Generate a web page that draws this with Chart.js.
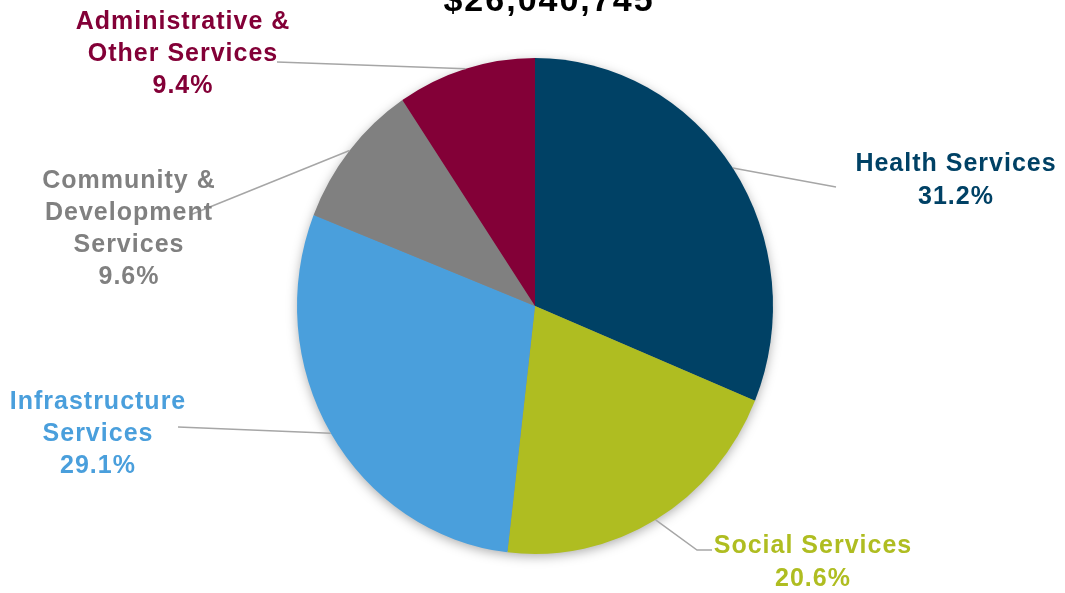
<!DOCTYPE html>
<html>
<head>
<meta charset="utf-8">
<title>Budget by Service Area</title>
<script src="https://cdn.jsdelivr.net/npm/chart.js@4"></script>
<style>
  html, body { margin: 0; padding: 0; background: #fff; overflow: hidden; }
  #wrap { width: 1065px; height: 593px; }
</style>
</head>
<body>
<div id="wrap"><canvas id="budgetPie" width="1065" height="593"></canvas></div>
<script>
// Budget share by service area (percent of total)
const totalBudget = "$26,040,745";
const categories = ["Health Services", "Social Services", "Infrastructure Services", "Community & Development Services", "Administrative & Other Services"];
const shares = [31.2, 20.6, 29.1, 9.6, 9.4];
const sliceColors = ["#004165", "#afbd21", "#4a9fdc", "#808080", "#830037"];

// label text lines (name wrapped + percent), placement and leader routing
const labelLines = [
  ["Health Services"],
  ["Social Services"],
  ["Infrastructure", "Services"],
  ["Community &", "Development", "Services"],
  ["Administrative &", "Other Services"]
];
const labelPos = [
  { x: 956, y: 164, lead: [[836, 187]] },
  { x: 813, y: 546, lead: [[697, 550], [712, 550]] },
  { x: 98,  y: 402, lead: [[178, 427]] },
  { x: 129, y: 181, lead: [[190, 215]] },
  { x: 183, y: 22,  lead: [[277, 62]] }
];

const xSquash = 238 / 248; // pie is drawn slightly narrower than tall
const lineGap = 32;

function pct(v) { return v.toFixed(1) + "%"; }

// squash the pie horizontally and put a soft shadow under it
const pieShape = {
  id: 'pieShape',
  beforeDatasetsDraw(chart) {
    const arc = chart.getDatasetMeta(0).data[0];
    const ctx = chart.ctx;
    ctx.save();
    ctx.translate(arc.x, 0);
    ctx.scale(xSquash, 1);
    ctx.translate(-arc.x, 0);
    ctx.save();
    ctx.shadowColor = 'rgba(0,0,0,0.35)';
    ctx.shadowBlur = 12;
    ctx.shadowOffsetY = 3;
    ctx.fillStyle = '#888';
    ctx.beginPath();
    ctx.arc(arc.x, arc.y, arc.outerRadius - 1, 0, Math.PI * 2);
    ctx.fill();
    ctx.restore();
  },
  afterDatasetsDraw(chart) {
    chart.ctx.restore();
  }
};

// title, leader lines and slice labels
const pieLabels = {
  id: 'pieLabels',
  afterDraw(chart) {
    const ctx = chart.ctx;
    const meta = chart.getDatasetMeta(0);
    ctx.save();
    ctx.textAlign = 'center';
    ctx.textBaseline = 'alphabetic';
    ctx.fillStyle = '#000';
    ctx.font = 'bold 34px "Liberation Sans", Arial, sans-serif';
    ctx.letterSpacing = '2px';
    ctx.fillText(totalBudget, 549, 11);

    meta.data.forEach((arc, i) => {
      const mid = (arc.startAngle + arc.endAngle) / 2;
      const ex = arc.x + Math.cos(mid) * arc.outerRadius * xSquash;
      const ey = arc.y + Math.sin(mid) * arc.outerRadius;
      const p = labelPos[i];
      ctx.strokeStyle = '#a6a6a6';
      ctx.lineWidth = 1.5;
      ctx.beginPath();
      ctx.moveTo(ex, ey);
      p.lead.forEach(pt => ctx.lineTo(pt[0], pt[1]));
      ctx.stroke();

      const lines = labelLines[i].concat([pct(shares[i])]);
      ctx.fillStyle = sliceColors[i];
      ctx.font = 'bold 25px "Liberation Sans", Arial, sans-serif';
      ctx.letterSpacing = '1px';
      ctx.textBaseline = 'middle';
      lines.forEach((t, k) => ctx.fillText(t, p.x, p.y + k * lineGap + (k > 0 && lines.length === 2 ? 1 : 0)));
    });
    ctx.restore();
  }
};

new Chart(document.getElementById('budgetPie'), {
  type: 'pie',
  data: {
    labels: categories,
    datasets: [{
      data: shares,
      backgroundColor: sliceColors,
      borderWidth: 0
    }]
  },
  options: {
    responsive: false,
    animation: false,
    layout: { padding: { top: 58, bottom: 39, left: 287, right: 282 } },
    plugins: {
      legend: { display: false },
      tooltip: { enabled: false }
    }
  },
  plugins: [pieShape, pieLabels]
});
</script>
</body>
</html>
